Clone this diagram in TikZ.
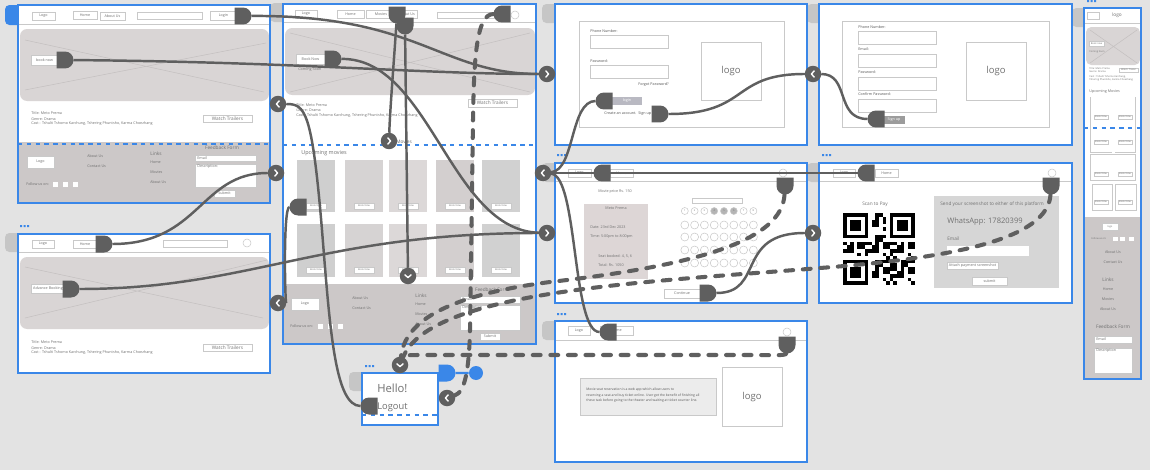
\documentclass[tikz,border=0pt]{standalone}
\usepackage{fontspec}
\setmainfont{Open Sans}
\usetikzlibrary{shapes.misc}

\definecolor{canvas}{HTML}{E3E3E3}
\definecolor{frameblue}{HTML}{3A87E8}
\definecolor{tabgray}{HTML}{C6C6C6}
\definecolor{herogray}{HTML}{D9D5D5}
\definecolor{heroline}{HTML}{C4C0C0}
\definecolor{footgray}{HTML}{CCC8C8}
\definecolor{wire}{HTML}{C9C9C9}
\definecolor{ink}{HTML}{707070}
\definecolor{darkink}{HTML}{555555}
\definecolor{conn}{HTML}{5F5F5F}
\definecolor{infogray}{HTML}{DDD6D6}
\definecolor{panelgray}{HTML}{D6D6D6}
\definecolor{boxgray}{HTML}{ECECEC}
\definecolor{btngray}{HTML}{B9B9C2}
\definecolor{signgray}{HTML}{9C9C9C}
\definecolor{seatgray}{HTML}{B4B4B4}
\definecolor{poster1}{HTML}{CFCFCF}
\definecolor{poster2}{HTML}{D6D3D3}
\definecolor{poster3}{HTML}{DCD8D8}
\definecolor{poster4}{HTML}{D3CFCF}
\definecolor{poster5}{HTML}{D1D1D1}

\newcommand{\tinyf}{\fontsize{2.1}{2.5}\selectfont}
\newcommand{\microf}{\fontsize{1.4}{1.7}\selectfont}
\newcommand{\smallf}{\fontsize{2.7}{3.2}\selectfont}
\newcommand{\medf}{\fontsize{3.1}{3.6}\selectfont}
\newcommand{\logof}{\fontsize{5.4}{6}\selectfont}
\newcommand{\whatsf}{\fontsize{4.3}{5}\selectfont}
\newcommand{\hellof}{\fontsize{6.4}{7}\selectfont}
\newcommand{\logoutf}{\fontsize{5.3}{6}\selectfont}

\tikzset{
  tabbox/.style={fill=tabgray, rounded corners=2.5pt},
  hero/.style={fill=herogray, rounded corners=4pt},
  herox/.style={draw=heroline, line width=0.3pt},
  hline/.style={draw=wire, line width=0.3pt},
  wline/.style={draw=wire, line width=0.3pt},
  border/.style={draw=frameblue, line width=0.75pt},
  bluedash/.style={draw=frameblue, line width=0.6pt, dash pattern=on 2.5pt off 2.5pt},
  wtxt/.style={font=\tinyf, text=ink, inner sep=0pt, anchor=west},
  wlbl/.style={font=\tinyf, text=ink, inner sep=0pt},
  wbtnbox/.style={draw=wire, fill=white, line width=0.3pt, inner sep=0pt, outer sep=0pt, font=\tinyf, text=ink},
  plugE/.style={rounded rectangle, rounded rectangle west arc=none, fill=conn,
    minimum height=0.34cm, minimum width=0.3cm, inner sep=0pt, outer sep=0pt},
  plugW/.style={rounded rectangle, rounded rectangle east arc=none, fill=conn,
    minimum height=0.34cm, minimum width=0.3cm, inner sep=0pt, outer sep=0pt},
  plugS/.style={plugE, rotate=-90},
  chevE/.style={circle, fill=conn, minimum size=0.33cm, inner sep=0pt, outer sep=0pt,
    path picture={\draw[white, line width=0.8pt, line cap=round, line join=round]
      ([shift={(-0.7pt,1.8pt)}]path picture bounding box.center) -- ++(1.6pt,-1.8pt) -- ++(-1.6pt,-1.8pt);}},
  chevW/.style={circle, fill=conn, minimum size=0.33cm, inner sep=0pt, outer sep=0pt,
    path picture={\draw[white, line width=0.8pt, line cap=round, line join=round]
      ([shift={(0.7pt,1.8pt)}]path picture bounding box.center) -- ++(-1.6pt,-1.8pt) -- ++(1.6pt,-1.8pt);}},
  chevS/.style={circle, fill=conn, minimum size=0.33cm, inner sep=0pt, outer sep=0pt,
    path picture={\draw[white, line width=0.8pt, line cap=round, line join=round]
      ([shift={(-1.8pt,0.7pt)}]path picture bounding box.center) -- ++(1.8pt,-1.6pt) -- ++(1.8pt,1.6pt);}},
  link/.style={draw=conn, line width=1.4pt},
  dashlink/.style={draw=conn, line width=2.3pt, dash pattern=on 4.5pt off 5.5pt, line cap=round}
}

% button: [options]{name}{x1}{y1}{x2}{y2}{text}
\newcommand{\wbtn}[7][]{%
  \node[wbtnbox, #1, minimum width={((#5)-(#3))*0.02cm}, minimum height={((#6)-(#4))*0.02cm}]
    (#2) at ({((#3)+(#5))/2},{((#4)+(#6))/2}) {#7};}
% input field with label inside: {name}{x1}{y1}{x2}{y2}{text}
\newcommand{\wfield}[6]{%
  \draw[wline, fill=white] (#2,#3) rectangle (#4,#5);
  \node[wtxt] (#1) at ({(#2)+2},{(#3)+3}) {#6};}

\begin{document}
\begin{tikzpicture}[x=0.02cm, y=-0.02cm]
\fill[canvas] (0,0) rectangle (1150,470);
\useasboundingbox (0,0) rectangle (1150,470);

% tabs and dots
\fill[frameblue, rounded corners=2.5pt] (5,5) rectangle (22,25);
\foreach \a/\b in {5/233, 270/3, 542/4, 807/4, 542/163, 807/163, 542/321, 349/372, 1072/8}
  \fill[tabbox] (\a,\b) rectangle ++(16,19);
\foreach \a/\b in {20/225, 557/154, 822/154, 557/313, 365/365, 1087/0}
  \fill[frameblue] (\a,\b) rectangle ++(2,2) (\a+3.5,\b) rectangle ++(2,2) (\a+7,\b) rectangle ++(2,2);

% ---- home page
\fill[white] (18,5) rectangle (270,203);
\draw[hline] (18,24) -- (270,24);
\wbtn{aLogo}{32}{12}{55}{20}{Logo}
\wbtn{aHome}{73}{11}{97}{19}{Home}
\wbtn{aAbout}{100}{12}{125}{20}{About Us}
\wbtn{aSearch}{137}{12}{202}{19}{}
\wbtn{aLogin}{210}{11}{237}{20}{Login}
\fill[hero] (20,29) rectangle (269,101);
\draw[herox] (25,40) -- (264,92) (25,90) -- (266,43);
\wbtn{aBook}{31}{55}{58}{65}{book now}
\node[wtxt] (aT1) at (31,113) {Title: Meto Prema};
\node[wtxt] (aT2) at (31,119) {Genre: Drama};
\node[wtxt] (aT3) at (31,124) {Cast : Tshulti Tshomo Karchung, Tshering Phuntsho, Karma Choezhang};
\wbtn[font=\smallf]{aTrailer}{203}{115}{252}{122}{Watch Trailers}
\fill[footgray] (18,142) rectangle (270,203);
\draw[bluedash] (18,144) -- (270,144);
\wbtn{aFLogo}{27}{156}{54}{168}{Logo}
\node[wtxt] (aFAbout) at (87,156) {About Us};
\node[wtxt] (aFContact) at (87,166) {Contact Us};
\node[wtxt, font=\smallf] (aFLinks) at (150,154) {Links};
\node[wtxt] (aFHome) at (150,162) {Home};
\node[wtxt] (aFMovies) at (150,172) {Movies};
\node[wtxt] (aFAboutL) at (150,182) {About Us};
\node[wlbl, font=\smallf] (aFForm) at (222,148) {Feedback Form};
\wfield{aFEmail}{195}{155}{256}{161}{Email}
\wfield{aFDesc}{195}{164}{256}{187}{Description:}
\wbtn{aFSubmit}{214}{190}{235}{197}{Submit}
\node[wtxt] (aFFollow) at (26,184) {Follow us on:};
\foreach \sx in {53,63,73} \fill[white] (\sx,182) rectangle ++(5,5);
\draw[border] (18,5) rectangle (270,203);

% ---- advance booking page
\fill[white] (18,234) rectangle (270,373);
\draw[hline] (18,252) -- (270,252);
\wbtn{bLogo}{32}{240}{54}{248}{Logo}
\wbtn{bHome}{73}{240}{97}{248}{Home}
\wbtn{bSearch}{163}{240}{227}{247}{}
\draw[wline] (247,243) circle [radius=0.08cm];
\fill[hero] (20,257) rectangle (269,329);
\draw[herox] (25,267) -- (263,318) (25,318) -- (267,260);
\wbtn{bAdv}{31}{284}{65}{293}{Advance Booking}
\node[wtxt] (bT1) at (31,342) {Title: Meto Prema};
\node[wtxt] (bT2) at (31,348) {Genre: Drama};
\node[wtxt] (bT3) at (31,353) {Cast : Tshulti Tshomo Karchung, Tshering Phuntsho, Karma Choezhang};
\wbtn[font=\smallf]{bTrailer}{203}{344}{252}{351}{Watch Trailers}
\draw[border] (18,234) rectangle (270,373);

% ---- movies page
\fill[white] (283,4) rectangle (536,344);
\draw[hline] (283,22) -- (536,22);
\wbtn{cLogo}{295}{10}{317}{18}{Logo}
\wbtn{cHome}{337}{10}{364}{18}{Home}
\wbtn{cMovies}{366}{10}{396}{18}{Movies}
\wbtn{cAbout}{397}{10}{417}{18}{About Us}
\wbtn{cSearch}{437}{12}{495}{18}{}
\draw[wline] (515,15) circle [radius=0.08cm];
\fill[hero] (285,28) rectangle (535,95);
\draw[herox] (290,33) -- (530,92) (290,92) -- (530,33);
\wbtn{cBook}{296}{54}{325}{64}{Book Now}
\node[wtxt] (cSoon) at (298,70) {Coming Soon};
\node[wtxt] (cT1) at (296,105) {Title: Meto Prema};
\node[wtxt] (cT2) at (296,110) {Genre: Drama};
\node[wtxt] (cT3) at (296,116) {Cast : Tshulti Tshomo Karchung, Tshering Phuntsho, Karma Choezhang};
\wbtn[font=\smallf]{cTrailer}{468}{99}{517}{107}{Watch Trailers}
\draw[bluedash] (283,145) -- (536,145);
\node[wtxt, font=\smallf] (cMovLbl) at (396,142) {Movies};
\node[wtxt, font=\medf] (cUpcoming) at (301,153) {Upcoming movies};
\foreach \px/\col [count=\k] in {297/poster1, 345/poster2, 389/poster3, 436/poster4, 482/poster5} {
  \fill[\col] (\px,160) rectangle ++(38,52);
  \fill[\col] (\px,224) rectangle ++(38,53);
  \wbtn[font=\microf]{cBookA\k}{\px+9}{203}{\px+29}{209}{Book Now}
  \wbtn[font=\microf]{cBookB\k}{\px+9}{267}{\px+29}{273}{Book Now}
}
\fill[footgray] (283,284) rectangle (536,344);
\wbtn{cFLogo}{291}{298}{319}{310}{Logo}
\node[wtxt] (cFAbout) at (352,298) {About Us};
\node[wtxt] (cFContact) at (352,308) {Contact Us};
\node[wtxt, font=\smallf] (cFLinks) at (415,296) {Links};
\node[wtxt] (cFHome) at (415,304) {Home};
\node[wtxt] (cFMovies) at (415,314) {Movies};
\node[wtxt] (cFAboutL) at (415,324) {About Us};
\node[wlbl, font=\smallf] (cFForm) at (492,290) {Feedback Form};
\wfield{cFEmail}{460}{296}{520}{303}{Email}
\wfield{cFDesc}{460}{305}{520}{330}{Description}
\wbtn{cFSubmit}{480}{333}{500}{340}{Submit}
\node[wtxt] (cFFollow) at (290,326) {Follow us on:};
\foreach \sx in {318,328,338} \fill[white] (\sx,324) rectangle ++(5,5);
\draw[border] (283,4) rectangle (536,344);

% ---- login page
\fill[white] (555,4) rectangle (807,145);
\draw[wline] (579,21) rectangle (784,127);
\node[wtxt, text=darkink] (dPhone) at (590,31) {Phone Number:};
\draw[wline] (590,35) rectangle (668,48);
\node[wtxt, text=darkink] (dPass) at (590,61) {Password:};
\draw[wline] (590,65) rectangle (668,78);
\node[wtxt, anchor=east, text=darkink] (dForgot) at (669,85) {Forgot Password?};
\fill[btngray] (612,97) rectangle (642,105);
\node[wlbl, text=white] (dLogin) at (627,101) {login};
\node[wtxt, text=darkink] (dCreate) at (604,114) {Create an account.\ \ Sign up};
\draw[wline] (701,42) rectangle (761,100);
\node[font=\logof, text=ink] (dLogo) at (731,71) {logo};
\draw[border] (555,4) rectangle (807,145);

% ---- sign up page
\fill[white] (819,4) rectangle (1072,145);
\draw[wline] (842,21) rectangle (1049,127);
\node[wtxt, text=darkink] (ePhone) at (858,27) {Phone Number:};
\draw[wline] (858,31) rectangle (936,44);
\node[wtxt, text=darkink] (eEmail) at (858,49) {Email:};
\draw[wline] (858,54) rectangle (936,67);
\node[wtxt, text=darkink] (ePass) at (858,72) {Password:};
\draw[wline] (858,77) rectangle (936,90);
\node[wtxt, text=darkink] (eConf) at (858,94) {Confirm Password:};
\draw[wline] (858,99) rectangle (936,112);
\fill[signgray] (884,116) rectangle (905,124);
\node[wlbl, text=white] (eSign) at (894,120) {Sign up};
\draw[wline] (966,42) rectangle (1026,100);
\node[font=\logof, text=ink] (eLogo) at (996,71) {logo};
\draw[border] (819,4) rectangle (1072,145);

% ---- seat booking page
\fill[white] (555,163) rectangle (807,303);
\draw[hline] (555,181) -- (807,181);
\wbtn{fLogo}{568}{169}{591}{177}{Logo}
\wbtn{fHome}{610}{169}{633}{177}{Home}
\draw[wline] (783,173) circle [radius=0.08cm];
\node[wtxt] (fPrice) at (598,192) {Movie price Rs. 150};
\fill[infogray] (584,204) rectangle (648,279);
\node[wlbl] (fName) at (616,208) {Meto Prema};
\node[wtxt] (fDate) at (590,227) {Date: 23rd Dec 2023};
\node[wtxt] (fTime) at (590,237) {Time: 5:00pm to 8:00pm};
\node[wtxt] (fSeats) at (598,256) {Seat booked: 4, 5, 6};
\node[wtxt] (fTotal) at (598,265) {Total: Rs. 1050};
\draw[wline] (692,198) rectangle (742,203);
\foreach \i in {1,...,8} {
  \ifnum\i>3 \ifnum\i<7 \def\seatfill{seatgray}\else\def\seatfill{white}\fi\else\def\seatfill{white}\fi
  \node[circle, draw=wire, fill=\seatfill, line width=0.3pt, minimum size=0.14cm, inner sep=0pt,
        font=\microf, text=ink] (fs\i) at ({675+\i*9.8},211) {\i};
  \foreach \r in {225,237,250,263} \draw[wline] ({675+\i*9.8},\r) circle [radius=0.08cm];
}
\wbtn{fCont}{664}{289}{700}{298}{Continue}
\draw[border] (555,163) rectangle (807,303);

% ---- payment page
\fill[white] (819,163) rectangle (1072,303);
\draw[hline] (819,181) -- (1072,181);
\wbtn{gLogo}{833}{169}{855}{177}{Logo}
\wbtn{gHome}{875}{169}{898}{177}{Home}
\draw[wline] (1052,173) circle [radius=0.08cm];
\node[wlbl, font=\smallf] (gScan) at (875,204) {Scan to Pay};
\foreach \qx/\qy in {843/213, 889.8/213, 843/259.8} {
  \fill[black] (\qx,\qy) rectangle ++(25.2,25.2);
  \fill[white] (\qx+3.6,\qy+3.6) rectangle ++(18,18);
  \fill[black] (\qx+7.2,\qy+7.2) rectangle ++(10.8,10.8);
}
\foreach \i in {0,...,19} \foreach \j in {0,...,19} {
  \pgfmathtruncatemacro\qin{(\i<8 && \j<8) || (\i>11 && \j<8) || (\i<8 && \j>11)}
  \pgfmathtruncatemacro\qon{mod(\i*\i*3+\j*\j*5+\i*\j+\i+2*\j,7)<3}
  \ifnum\qin=0 \ifnum\qon=1 \fill[black] (843+\i*3.6,213+\j*3.6) rectangle ++(3.6,3.6); \fi\fi
}
\fill[panelgray] (934,196) rectangle (1059,288);
\node[wtxt, font=\smallf] (gSend) at (940,204) {Send your screenshot to either of this platform};
\node[wtxt, font=\whatsf] (gWhats) at (947,222) {WhatsApp: 17820399};
\node[wtxt, font=\smallf] (gEmail) at (947,239) {Email};
\fill[white] (947,246) rectangle (1029,256);
\wbtn{gAttach}{947}{262}{998}{269}{Attach payment screenshot}
\wbtn{gSubmit}{972}{277}{1007}{285}{submit}
\draw[border] (819,163) rectangle (1072,303);

% ---- about page
\fill[white] (555,321) rectangle (807,462);
\draw[hline] (555,340) -- (807,340);
\wbtn{hLogo}{568}{326}{590}{335}{Logo}
\wbtn{hHome}{600}{326}{633}{335}{Home}
\draw[wline] (787,332) circle [radius=0.08cm];
\draw[wline, fill=boxgray] (580,378) rectangle (716,415);
\node[wtxt, font=\fontsize{1.9}{3.1}\selectfont, text=darkink, align=left] (hText) at (586,395.5)
  {Movie seat reservation is a web app which allow users to\\
   reserving a seat and buy ticket online. User get the benefit of finishing all\\
   these task before going to the theater and waiting at ticket counter line.};
\draw[wline] (722,367) rectangle (782,426);
\node[font=\logof, text=ink] (hLogoBig) at (752,397) {logo};
\draw[border] (555,321) rectangle (807,462);

% ---- user popup
\fill[white] (362,373) rectangle (438,425);
\node[wtxt, font=\hellof] (iHello) at (377,388) {Hello!};
\node[wtxt, font=\logoutf] (iLogout) at (377,407) {Logout};
\draw[bluedash] (362,415) -- (438,415);
\draw[border] (362,373) rectangle (438,425);

% ---- mobile page
\fill[white] (1084,8) rectangle (1141,379);
\draw[wline] (1087,12) rectangle (1099,19);
\node[wlbl, font=\smallf] (jLogo) at (1117,15) {logo};
\draw[hline] (1084,23) -- (1141,23);
\fill[hero, rounded corners=3pt] (1086,27) rectangle (1140,65);
\draw[herox] (1090,30) -- (1137,63) (1090,63) -- (1137,30);
\wbtn[font=\microf]{jBook}{1089}{41}{1104}{46}{Book now}
\node[wtxt, font=\microf] (jSoon) at (1089,52) {Coming Soon};
\node[wtxt, font=\microf] (jT1) at (1089,69) {Title: Meto Prema};
\node[wtxt, font=\microf] (jT2) at (1089,72) {Genre: Drama};
\node[wtxt, font=\microf] (jT3) at (1089,77) {Cast : Tshulti Tshomo Karchung,};
\node[wtxt, font=\microf] (jT4) at (1089,80) {Tshering Phuntsho, Karma Choezhang};
\wbtn[font=\microf]{jTrailer}{1119}{68}{1138}{72}{Watch Trailer}
\node[wtxt, font=\tinyf] (jUp) at (1089,92) {Upcoming Movies};
\draw[wline] (1090,97) -- (1090,152) -- (1112,152) (1115,152) -- (1135,152) -- (1135,97);
\draw[wline] (1090,154) rectangle (1135,180);
\draw[wline] (1092,184) rectangle (1112,210) (1115,184) rectangle (1136,210);
\foreach \jy [count=\k] in {117,142,174,202} {
  \wbtn[font=\microf]{jBookL\k}{1094}{\jy-2}{1108}{\jy+2}{Book Now}
  \wbtn[font=\microf]{jBookR\k}{1118}{\jy-2}{1132}{\jy+2}{Book Now}
}
\draw[bluedash] (1084,128) -- (1141,128);
\fill[footgray] (1085,217) rectangle (1140,378);
\wbtn[font=\microf]{jFLogo}{1102}{223}{1118}{230}{logo}
\node[wtxt, font=\microf] (jFollow) at (1091,239) {Follow us on:};
\foreach \sx in {1113,1120,1129} \fill[white] (\sx,237) rectangle ++(5,4);
\node[wlbl] (jAbout) at (1113,252) {About Us};
\node[wlbl] (jContact) at (1113,262) {Contact Us};
\node[wlbl, font=\smallf] (jLinks) at (1108,280) {Links};
\node[wlbl] (jHome) at (1108,289) {Home};
\node[wlbl] (jMovies) at (1108,299) {Movies};
\node[wlbl] (jAboutL) at (1108,309) {About Us};
\node[wlbl, font=\smallf] (jForm) at (1113,327) {Feedback Form};
\wfield{jEmail}{1094}{336}{1132}{343}{Email}
\wfield{jDesc}{1094}{348}{1132}{373}{Description}
\draw[border] (1084,8) rectangle (1141,379);

% ---- link handles
\node[plugE] (pLogin) at (243,16) {};
\node[plugE] (pBookA) at (65,60) {};
\node[plugE] (pHomeB) at (104,244) {};
\node[plugE] (pAdvB) at (71,289) {};
\node[plugE] (pBookC) at (333,59) {};
\node[plugS] (pMovC) at (397,15) {};
\node[plugS] (pAboutC) at (405,26) {};
\node[plugW] (pSearchC) at (502,14) {};
\node[plugW] (pPosterC) at (298,207) {};
\node[plugW] (pLoginD) at (604,101) {};
\node[plugE] (pSignD) at (660,114) {};
\node[plugW] (pSignE) at (876,119) {};
\node[plugW] (pHomeF) at (602,173) {};
\node[plugS] (pCircF) at (785,186) {};
\node[plugE] (pContF) at (708,293) {};
\node[plugW] (pHomeG) at (866,173) {};
\node[plugS] (pCircG) at (1051,186) {};
\node[plugW] (pHomeH) at (608,332) {};
\node[plugS] (pCircH) at (787,345) {};
\node[plugW] (pLogoutI) at (369,406) {};
\node[plugE, fill=frameblue] (pSel) at (447,373) {};
\node[circle, fill=frameblue, minimum size=0.28cm, inner sep=0pt] (selEnd) at (476,373) {};

% ---- link targets
\node[chevE] (eD) at (547,74) {};
\node[chevW] (eE) at (813,74) {};
\node[chevW] (eAr) at (278,104) {};
\node[chevE] (eAr2) at (276,173) {};
\node[chevW] (eB) at (278,303) {};
\node[chevE] (eMov) at (389,141) {};
\node[chevS] (eFoot) at (408,276) {};
\node[chevW] (eF) at (543,173) {};
\node[chevE] (eF2) at (547,233) {};
\node[chevE] (eG) at (813,233) {};
\node[chevS] (eIv) at (400,365) {};
\node[chevW] (eI) at (447,398) {};

% ---- links
\draw[link] (pLogin) .. controls (420,15) and (440,74) .. (eD);
\draw[link] (pBookA) .. controls (300,62) and (420,74) .. (eD);
\draw[link] (pBookC) .. controls (430,58) and (450,230) .. (eF2);
\draw[link] (pHomeB) .. controls (200,244) and (200,173) .. (eAr2);
\draw[link] (pAdvB) .. controls (250,289) and (320,233) .. (eF2);
\draw[link] (pLogoutI) .. controls (335,406) and (330,330) .. (322,230) .. controls (312,110) and (305,104) .. (eAr);
\draw[link] (pPosterC) .. controls (283,207) and (285,303) .. (eB);
\draw[link] (pMovC) .. controls (394,60) and (390,110) .. (eMov);
\draw[link] (pAboutC) -- (eFoot);
\draw[link] (pLoginD) .. controls (570,101) and (575,170) .. (eF);
\draw[link] (pHomeH) .. controls (572,332) and (578,176) .. (eF);
\draw[link] (pHomeG) -- (eF);
\draw[link] (pHomeF) -- (eF);
\draw[link] (pSignD) .. controls (750,114) and (730,74) .. (eE);
\draw[link] (pSignE) .. controls (835,119) and (850,74) .. (eE);
\draw[link] (pContF) .. controls (765,293) and (735,233) .. (eG);
\draw[dashlink] (pSearchC) .. controls (476,14) and (474,60) .. (473,120) -- (470,330) .. controls (469,370) and (465,392) .. (eI);
\draw[dashlink] (pCircF) .. controls (782,240) and (700,265) .. (550,282) .. controls (450,295) and (405,320) .. (eIv);
\draw[dashlink] (pCircG) .. controls (1048,240) and (950,258) .. (820,268) .. controls (650,282) and (430,290) .. (eIv);
\draw[dashlink] (pCircH) .. controls (786,356) and (770,355) .. (750,355) -- (420,355) .. controls (404,355) and (401,356) .. (eIv);
\draw[link, draw=frameblue] (pSel) -- (selEnd);
\end{tikzpicture}
\end{document}
